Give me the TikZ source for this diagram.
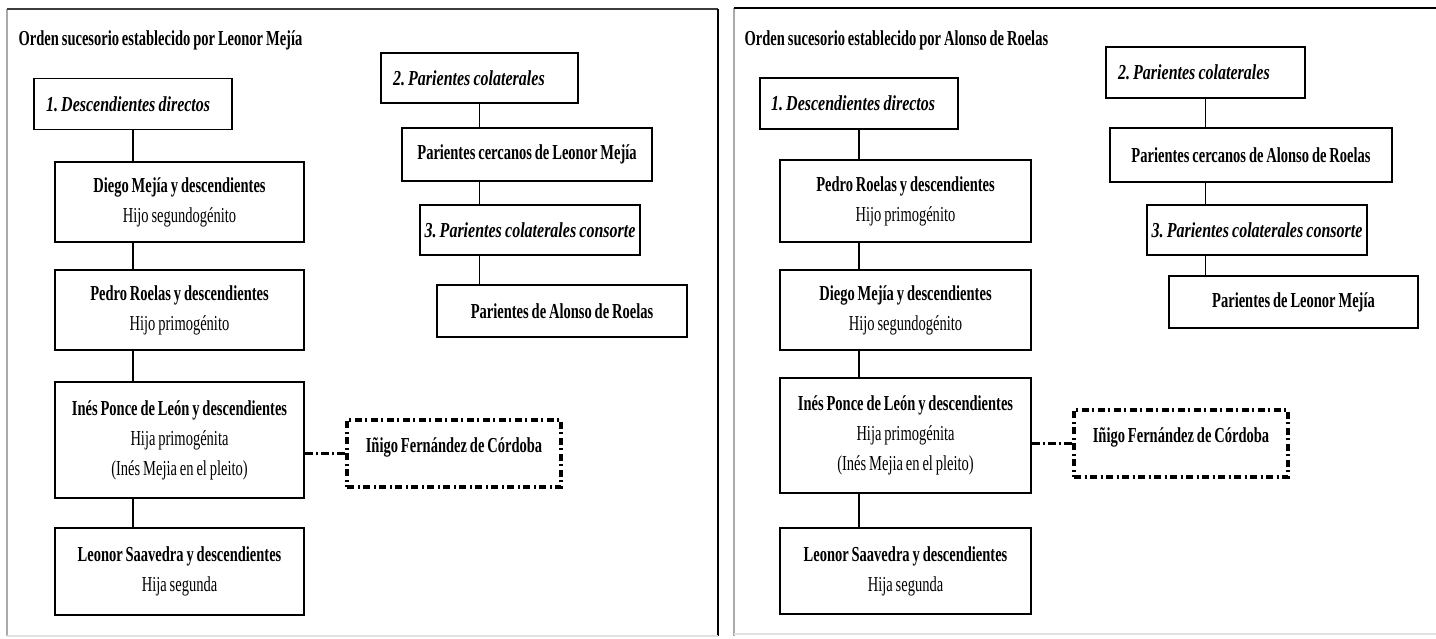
\documentclass[tikz,border=0pt]{standalone}
\usepackage{fontspec}
\setmainfont{Liberation Serif}[FakeStretch=0.68, WordSpace=0.8]
\newfontfamily\headfont{Liberation Serif}[FakeStretch=0.75, WordSpace=0.8]
\tikzset{every picture/.style={line width=1pt}}
\definecolor{frameLight}{RGB}{170,170,170}
\definecolor{frameDark}{RGB}{60,60,60}
\definecolor{frameFaint}{RGB}{225,225,225}
\tikzset{
  txt/.style={font=\fontsize{16}{22.5}\selectfont\frenchspacing, align=center},
  headtxt/.style={font=\fontsize{16}{22.5}\headfont\bfseries\itshape\frenchspacing},
  titletxt/.style={font=\fontsize{16}{18}\selectfont\bfseries, anchor=west, inner sep=0pt},
  thinbox/.style={draw, line width=1pt, txt, inner sep=0pt},
  thickbox/.style={draw, line width=2.2pt, txt, inner sep=0pt},
  headbox/.style={thinbox, headtxt, align=flush left, inner xsep=9pt, text width=130.5pt, minimum height=38.25pt},
  cordbox/.style={draw, line width=2.3pt, dash pattern=on 5.5pt off 2.5pt on 1.5pt off 2.5pt, txt, inner sep=0pt, text depth=12.3pt},
  cordline/.style={line width=2.3pt, dash pattern=on 5.5pt off 2.5pt on 1.5pt off 2.5pt},
}

\begin{document}
\begin{tikzpicture}[x=0.75pt,y=0.75pt,yscale=-1,xscale=1]
\useasboundingbox (0,0) rectangle (1436,639);

%Frames
\draw [color=frameLight, line width=1.5pt] (7,9) -- (7,636) ;
\draw [color=frameDark, line width=1.5pt] (7,9) -- (718,9) ;
\draw [color=black, line width=1.5pt] (718,9) -- (718,636) ;
\draw [color=frameFaint, line width=1.5pt] (7,636) -- (718,636) ;
\draw [color=frameLight, line width=1.5pt] (734,8) -- (734,636) ;
\draw [color=black, line width=2.2pt] (734,8) -- (1436,8) ;
\draw [color=frameFaint, line width=1.5pt] (734,634) -- (1436,634) ;

% Text Node
\node [titletxt] (ltitle) at (18,40) {Orden sucesorio establecido por Leonor Mejía};
% Text Node
\node [titletxt] (rtitle) at (744,40) {Orden sucesorio establecido por Alonso de Roelas};

%Left panel: descendientes
\node [headbox] (ldesc) at (133,104) {1. Descendientes directos};
\node [thickbox, minimum width=186.75pt, minimum height=60pt] (ldiego) at (179.5,202) {\textbf{Diego Mejía y descendientes}\\Hijo segundogénito};
\node [thickbox, minimum width=186.75pt, minimum height=60pt] (lpedro) at (179.5,310) {\textbf{Pedro Roelas y descendientes}\\Hijo primogénito};
\node [thickbox, minimum width=186.75pt, minimum height=87pt] (lines) at (179.5,440) {\textbf{Inés Ponce de León y descendientes}\\Hija primogénita\\(Inés Mejia en el pleito)};
\node [thickbox, minimum width=186.75pt, minimum height=65.25pt] (lleonor) at (179.5,571.5) {\textbf{Leonor Saavedra y descendientes}\\Hija segunda};
\node [cordbox, minimum width=160.5pt, minimum height=50.25pt] (linigo) at (454,453.5) {\textbf{Iñigo Fernández de Córdoba}};

%Left panel: colaterales
\node [headbox, text width=129.75pt, minimum height=37.5pt] (lcol) at (479.5,78) {2. Parientes colaterales};
\node [thickbox, minimum width=187.5pt, minimum height=39.75pt] (lcerca) at (527,154.5) {\textbf{Parientes cercanos de Leonor Mejía}};
\node [thinbox, headtxt, minimum width=165pt, minimum height=37.5pt] (lcons) at (530,230) {3. Parientes colaterales consorte};
\node [thickbox, minimum width=187.5pt, minimum height=39pt] (lalonso) at (562,311) {\textbf{Parientes de Alonso de Roelas}};

%Left panel: connectors
\draw (ldesc.south) -- (ldesc.south |- ldiego.north) ;
\draw (ldesc.south |- ldiego.south) -- (ldesc.south |- lpedro.north) ;
\draw (ldesc.south |- lpedro.south) -- (ldesc.south |- lines.north) ;
\draw (ldesc.south |- lines.south) -- (ldesc.south |- lleonor.north) ;
\draw [cordline] (lines.east |- linigo.west) -- (linigo.west) ;
\draw (lcol.south) -- (lcol.south |- lcerca.north) ;
\draw (lcol.south |- lcerca.south) -- (lcol.south |- lcons.north) ;
\draw (lcol.south |- lcons.south) -- (lcol.south |- lalonso.north) ;

%Right panel: descendientes
\node [headbox, inner xsep=8.25pt, text width=132pt] (rdesc) at (859,103.5) {1. Descendientes directos};
\node [thickbox, minimum width=188.25pt, minimum height=61.5pt] (rpedro) at (905.5,201) {\textbf{Pedro Roelas y descendientes}\\Hijo primogénito};
\node [thickbox, minimum width=188.25pt, minimum height=60pt] (rdiego) at (905.5,310) {\textbf{Diego Mejía y descendientes}\\Hijo segundogénito};
\node [thickbox, minimum width=188.25pt, minimum height=86.25pt] (rines) at (905.5,435.5) {\textbf{Inés Ponce de León y descendientes}\\Hija primogénita\\(Inés Mejia en el pleito)};
\node [thickbox, minimum width=188.25pt, minimum height=64.5pt] (rleonor) at (905.5,571) {\textbf{Leonor Saavedra y descendientes}\\Hija segunda};
\node [cordbox, minimum width=160.5pt, minimum height=50.25pt] (rinigo) at (1181,443.5) {\textbf{Iñigo Fernández de Córdoba}};

%Right panel: colaterales
\node [headbox, text width=131.25pt, minimum height=38.25pt] (rcol) at (1205.5,72.5) {2. Parientes colaterales};
\node [thickbox, minimum width=211.5pt, minimum height=40.5pt] (rcerca) at (1251,155) {\textbf{Parientes cercanos de Alonso de Roelas}};
\node [thinbox, headtxt, minimum width=165pt, minimum height=37.5pt] (rcons) at (1257,230) {3. Parientes colaterales consorte};
\node [thickbox, minimum width=186.75pt, minimum height=39pt] (rleo) at (1293.5,302) {\textbf{Parientes de Leonor Mejía}};

%Right panel: connectors
\draw (rdesc.south) -- (rdesc.south |- rpedro.north) ;
\draw (rdesc.south |- rpedro.south) -- (rdesc.south |- rdiego.north) ;
\draw (rdesc.south |- rdiego.south) -- (rdesc.south |- rines.north) ;
\draw (rdesc.south |- rines.south) -- (rdesc.south |- rleonor.north) ;
\draw [cordline] (rines.east |- rinigo.west) -- (rinigo.west) ;
\draw (rcol.south) -- (rcol.south |- rcerca.north) ;
\draw (rcol.south |- rcerca.south) -- (rcol.south |- rcons.north) ;
\draw (rcol.south |- rcons.south) -- (rcol.south |- rleo.north) ;

\end{tikzpicture}
\end{document}
